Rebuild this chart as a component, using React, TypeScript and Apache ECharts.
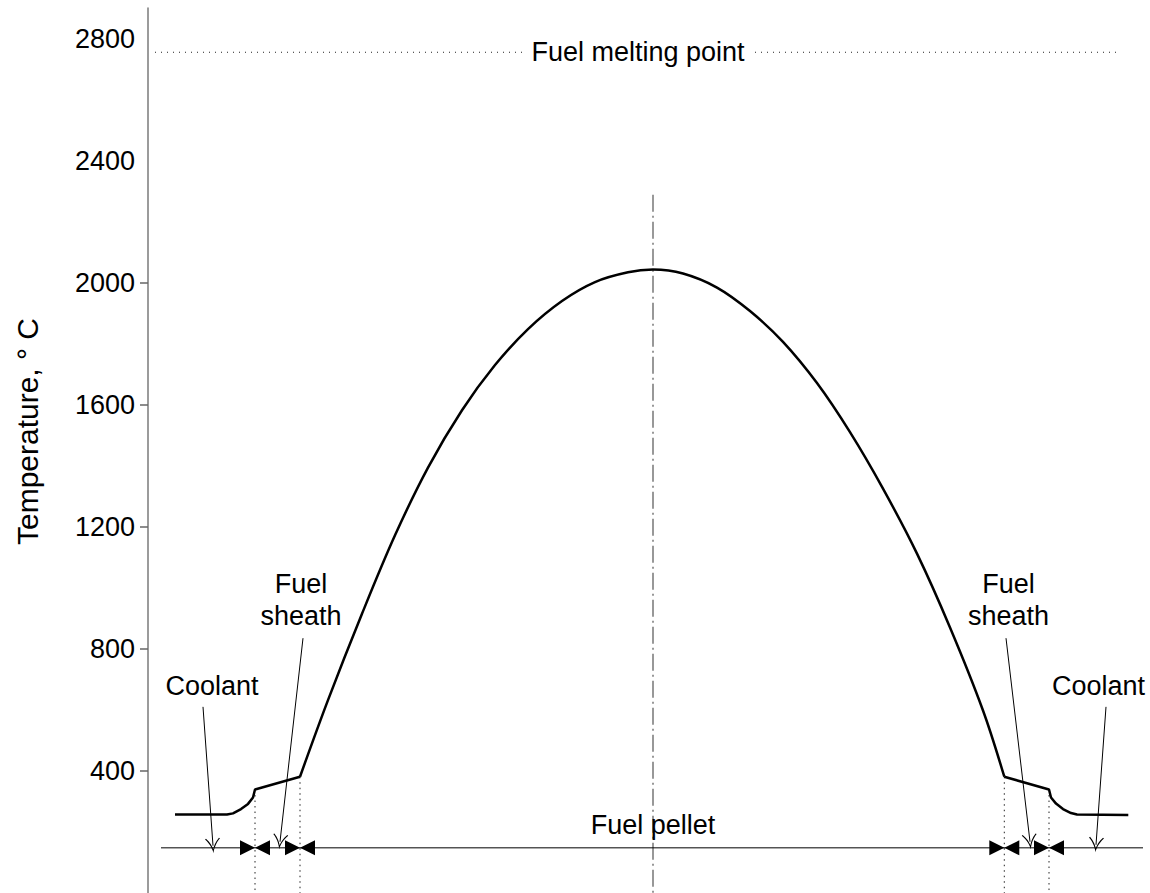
import React, { useEffect, useRef } from "react";
import * as echarts from "echarts";

// ---- data (x: radial position, arbitrary units, 0 = pellet centre; y: temperature °C)
const pelletX = [-3.53, -3.25, -2.91, -2.58, -2.25, -1.91, -1.58, -1.25, -0.91, -0.58, -0.25, 0, 0.3, 0.64, 0.97, 1.3, 1.64, 1.97, 2.3, 2.64, 2.97, 3.3, 3.513];
const pelletT = [381, 632, 915, 1172, 1394, 1582, 1730, 1848, 1940, 2002, 2034, 2043, 2030, 1984, 1907, 1806, 1671, 1510, 1325, 1112, 870, 598, 381];

const leftOuterX = [-4.78, -4.26, -4.2, -4.12, -4.05, -4.0, -3.98, -3.53];
const leftOuterT = [257, 257, 261, 275, 292, 313, 339, 381];
const rightOuterX = [3.513, 3.96, 3.98, 4.03, 4.1, 4.18, 4.24, 4.753];
const rightOuterT = [381, 339, 313, 293, 275, 262, 257, 256];

const boundaryX = [-3.98, -3.53, 3.513, 3.96];
const boundaryT = [339, 381, 381, 339];

const meltingPoint = 2755;
const meltingLineX = [-4.98, 4.65];
const centreLineTop = 2288;
const dimLineT = 148;
const dimLineX = [-4.92, 4.9];

const yTickLabels = [400, 800, 1200, 1600, 2000, 2400, 2800];
const yTicks = [400, 800, 1200, 1600, 2000];

const annotationNames = ["Coolant", "Fuel\nsheath", "Fuel\nsheath", "Coolant", "Fuel pellet"];
const annotationX = [-4.41, -3.52, 3.555, 4.455, 0];
const annotationT = [678, 960, 960, 678, 224];

const pointerFrom = [[-4.5, 610], [-3.5, 835], [3.53, 835], [4.53, 610]];
const pointerTo = [[-4.4, 155], [-3.73, 168], [3.77, 168], [4.43, 158]];

const FONT = "'Liberation Sans', Arial, Helvetica, sans-serif";
const zip = (xs: number[], ys: number[]) => xs.map((x, i) => [x, ys[i]]);

export default function App() {
  const ref = useRef<HTMLDivElement>(null);
  useEffect(() => {
    if (!ref.current) return;
    const chart = echarts.init(ref.current, null, { renderer: "svg" });
    const curveStyle = { color: "#000", width: 2.5 };
    const option: any = {
      animation: false,
      backgroundColor: "#fff",
      grid: { left: 148, top: 8, width: 1000, height: 886 },
      xAxis: { type: "value", min: -5.05, max: 4.95, show: false },
      yAxis: {
        type: "value",
        min: 0,
        max: 2900,
        interval: 400,
        name: "Temperature, ° C",
        nameLocation: "middle",
        nameGap: 106,
        nameTextStyle: { fontSize: 30, color: "#000", fontFamily: FONT, padding: [0, 0, 0, 38] },
        axisLine: { show: true, onZero: false, lineStyle: { color: "#7a7a7a", width: 1.5 } },
        axisTick: { show: true, length: 8, inside: false, customValues: yTicks, lineStyle: { color: "#666", width: 1.5 } },
        axisLabel: {
          customValues: yTickLabels, fontSize: 27, color: "#000", fontFamily: FONT, margin: 13,
          formatter: (v: number) => String(v),
        },
        splitLine: { show: false },
      },
      series: [
        {
          type: "line", data: zip(pelletX, pelletT), smooth: 0.35, symbol: "none",
          lineStyle: curveStyle, silent: true, z: 5,
        },
        { type: "line", data: zip(leftOuterX, leftOuterT), symbol: "none", lineStyle: curveStyle, silent: true, z: 5 },
        { type: "line", data: zip(rightOuterX, rightOuterT), symbol: "none", lineStyle: curveStyle, silent: true, z: 5 },
        // melting point dotted line
        {
          type: "line", data: meltingLineX.map((x) => [x, meltingPoint]), symbol: "none", silent: true,
          lineStyle: { color: "#222", width: 1, type: [1, 5] },
        },
        // centre dash-dot line
        {
          type: "line", data: [[0, centreLineTop], [0, 0]], symbol: "none", silent: true,
          lineStyle: { color: "#777", width: 1.5, type: [17, 4, 2, 4] },
        },
        // boundary dotted verticals
        ...boundaryX.map((x, i) => ({
          type: "line", data: [[x, boundaryT[i]], [x, 0]], symbol: "none", silent: true,
          lineStyle: { color: "#222", width: 1, type: [1.5, 4] },
        })),
        // dimension line
        {
          type: "line", data: dimLineX.map((x) => [x, dimLineT]), symbol: "none", silent: true,
          lineStyle: { color: "#000", width: 1 },
        },
        {
          type: "scatter", data: boundaryX.map((x) => [x, dimLineT]), symbol: "triangle",
          symbolSize: [15, 15], symbolRotate: -90, symbolOffset: [-7.5, 0], silent: true,
          itemStyle: { color: "#000", opacity: 1 }, z: 6,
        },
        {
          type: "scatter", data: boundaryX.map((x) => [x, dimLineT]), symbol: "triangle",
          symbolSize: [15, 15], symbolRotate: 90, symbolOffset: [7.5, 0], silent: true,
          itemStyle: { color: "#000", opacity: 1 }, z: 6,
        },
        // pointer arrows
        {
          type: "lines", coordinateSystem: "cartesian2d", silent: true, z: 7,
          symbol: ["none", "path://M6 0 C6.5 3 8 8 12 12.4 L11.2 13 C8 9.5 6.6 6 6 3.4 C5.4 6 4 9.5 0.8 13 L0 12.4 C4 8 5.5 3 6 0 Z"],
          symbolSize: [15, 15], symbolOffset: [0, 7.5],
          lineStyle: { color: "#000", width: 1, opacity: 1 },
          data: pointerFrom.map((f, i) => ({ coords: [f, pointerTo[i]] })),
        },
        // annotation texts
        {
          type: "scatter", symbolSize: 0, silent: true, z: 8, itemStyle: { opacity: 1 },
          data: annotationNames.map((n, i) => ({ name: n, value: [annotationX[i], annotationT[i]] })),
          label: {
            show: true, position: "inside", formatter: (p: any) => p.name,
            color: "#000", fontSize: 27, lineHeight: 32, fontFamily: FONT, opacity: 1,
          },
        },
        {
          type: "scatter", symbolSize: 0, silent: true, z: 8, itemStyle: { opacity: 1 },
          data: [{ name: "Fuel melting point", value: [-0.15, meltingPoint] }],
          label: {
            show: true, position: "inside", formatter: (p: any) => p.name, opacity: 1,
            color: "#000", fontSize: 27, fontFamily: FONT, backgroundColor: "#fff", padding: [2, 7],
          },
        },
      ],
    };
    chart.setOption(option);
    return () => chart.dispose();
  }, []);
  return <div ref={ref} style={{ width: 1150, height: 893, position: "absolute", left: 0, top: 0 }} />;
}
